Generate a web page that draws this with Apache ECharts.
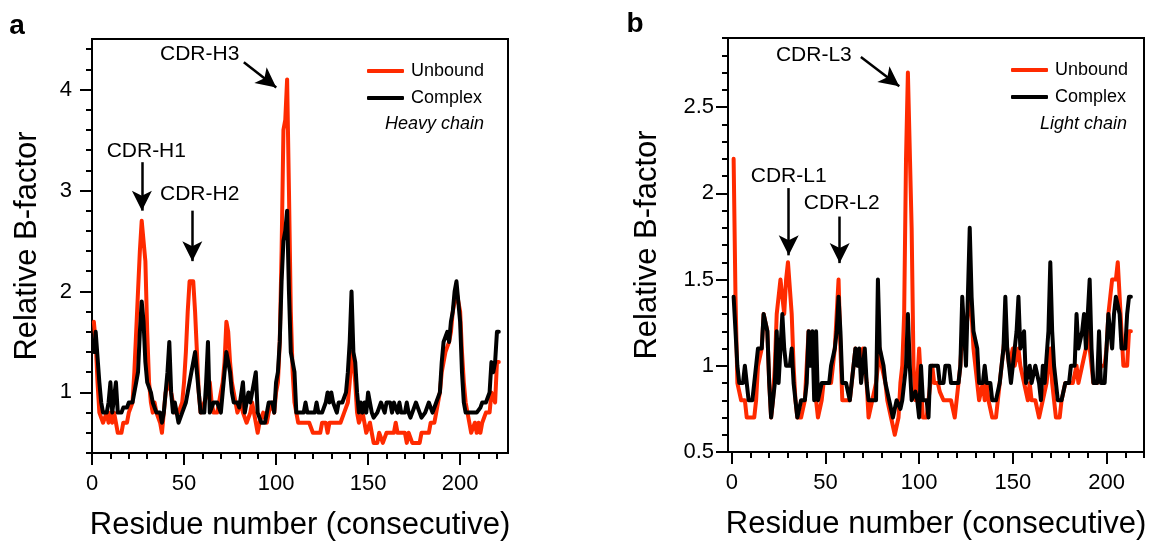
<!DOCTYPE html>
<html>
<head>
<meta charset="utf-8">
<title>Relative B-factor</title>
<script src="https://cdn.jsdelivr.net/npm/echarts@6.0.0/dist/echarts.min.js"></script>
<style>
  html, body { margin: 0; padding: 0; background: #fff; }
  #chart { width: 1163px; height: 546px; }
</style>
</head>
<body>
<div id="chart"></div>
<script>
// panel a, heavy chain: relative B-factor per residue (residue 1..221)
const unboundA = [
  1.7,1.5,1.1,0.8,0.8,0.7,0.7,0.8,0.7,0.8,
  0.7,0.8,0.7,0.6,0.6,0.6,0.7,0.7,0.7,0.8,
  0.8,0.9,1.2,1.6,2.0,2.4,2.7,2.7,2.3,1.6,
  1.1,0.9,0.8,0.9,0.8,0.8,0.7,0.6,0.8,1.0,
  1.0,1.1,1.1,0.9,0.8,0.8,0.8,0.8,0.9,1.1,
  1.4,1.8,2.1,2.1,2.1,1.8,1.4,1.0,0.8,0.8,
  0.9,0.9,1.0,1.1,0.9,0.8,0.8,0.8,0.9,1.0,
  1.1,1.3,1.7,1.6,1.3,1.1,1.0,0.9,0.8,0.8,
  0.9,0.8,0.8,0.7,0.7,0.8,0.9,0.8,0.7,0.6,
  0.7,0.7,0.8,0.8,0.7,0.8,0.8,0.9,0.8,1.0,
  1.1,1.5,2.4,3.6,3.7,4.1,3.0,1.8,1.2,0.9,
  0.8,0.7,0.7,0.7,0.7,0.7,0.7,0.7,0.7,0.6,
  0.6,0.6,0.6,0.6,0.7,0.7,0.7,0.6,0.7,0.7,
  0.7,0.7,0.7,0.7,0.7,0.7,0.8,0.8,0.9,1.1,
  1.4,1.3,1.1,0.8,0.7,0.7,0.8,0.7,0.6,0.6,
  0.7,0.6,0.5,0.5,0.5,0.6,0.6,0.5,0.5,0.6,
  0.6,0.6,0.6,0.6,0.7,0.6,0.6,0.6,0.6,0.6,
  0.5,0.6,0.6,0.5,0.5,0.5,0.5,0.5,0.6,0.6,
  0.6,0.6,0.6,0.7,0.7,0.7,0.8,0.9,1.0,1.2,
  1.3,1.4,1.4,1.5,1.6,1.8,1.9,2.0,2.0,1.8,
  1.4,1.1,0.9,0.8,0.8,0.6,0.6,0.7,0.6,0.7,
  0.6,0.7,0.7,0.8,0.8,0.8,1.0,1.0,0.9,1.3,1.3
];
const complexA = [
  1.4,1.6,1.6,1.1,0.9,0.8,0.8,0.8,0.9,1.1,
  0.8,0.8,1.1,0.8,0.8,0.8,0.85,0.85,0.85,0.9,
  0.9,0.9,1.0,1.1,1.2,1.6,1.9,1.7,1.3,1.1,
  1.1,1.0,0.9,0.9,0.8,0.8,0.8,0.7,0.8,1.0,
  1.2,1.5,1.0,0.8,0.9,0.8,0.7,0.7,0.8,0.8,
  0.9,1.0,1.0,1.2,1.3,1.4,1.2,1.0,0.8,0.8,
  0.8,1.1,1.5,0.8,0.85,0.9,0.9,0.9,0.85,0.8,
  1.0,1.2,1.4,1.4,1.2,1.0,0.9,0.9,0.9,0.85,
  0.85,1.1,0.8,0.9,1.0,0.9,1.0,1.1,1.2,0.8,
  0.8,0.7,0.7,0.7,0.8,0.9,0.9,0.9,0.8,1.1,
  1.2,1.5,2.1,2.5,2.6,2.8,2.0,1.4,1.3,1.2,
  0.8,0.8,0.8,0.8,0.8,0.9,0.8,0.8,0.8,0.8,
  0.8,0.9,0.8,0.8,0.8,0.8,0.9,1.0,0.9,1.0,
  0.9,0.9,0.8,0.9,0.9,0.9,0.9,1.0,1.2,1.5,
  2.0,1.4,1.3,1.0,0.8,0.9,0.8,0.9,0.8,1.0,
  0.9,0.8,0.75,0.75,0.8,0.85,0.9,0.9,0.8,0.9,
  0.9,0.9,0.8,0.9,0.9,0.8,0.9,0.8,0.8,0.8,
  0.9,0.8,0.75,0.8,0.8,0.9,0.85,0.8,0.75,0.75,
  0.8,0.8,0.9,0.85,0.8,0.8,0.9,0.9,1.0,1.3,
  1.5,1.5,1.6,1.5,1.7,1.8,2.0,2.1,2.1,1.7,
  1.2,0.9,0.8,0.8,0.8,0.8,0.8,0.8,0.8,0.8,
  0.85,0.9,0.9,0.9,0.9,1.0,1.3,1.2,1.3,1.6,1.6
];

// panel b, light chain (residue 1..213)
const unboundB = [
  2.2,1.4,0.9,0.9,0.8,0.8,0.8,0.7,0.7,0.7,
  0.7,0.7,0.8,1.0,1.0,1.1,1.3,1.3,1.2,0.9,
  0.7,0.8,1.0,1.3,1.3,1.5,1.5,1.3,1.5,1.6,
  1.6,1.3,1.0,0.8,0.7,0.7,0.7,0.7,0.8,1.0,
  1.2,1.1,1.1,1.1,0.8,0.7,0.7,0.8,0.9,0.9,
  0.9,0.9,0.9,1.0,1.1,1.3,1.5,1.1,0.8,0.8,
  0.8,0.8,0.8,0.9,1.0,1.1,1.1,1.0,1.0,1.1,
  1.0,0.9,0.7,0.7,0.8,0.8,0.9,0.9,1.1,1.0,
  1.0,0.9,0.8,0.8,0.7,0.7,0.6,0.6,0.7,0.9,
  1.0,1.3,2.2,2.7,2.7,1.8,1.0,0.8,0.9,1.1,
  1.1,0.7,0.7,0.7,0.8,0.9,1.0,0.9,0.9,0.9,
  0.85,0.85,0.8,0.8,0.8,0.8,0.8,0.8,0.7,0.8,
  0.9,1.0,1.2,1.1,1.1,1.3,1.5,1.3,1.1,1.0,
  1.0,0.8,0.8,0.9,0.8,0.9,0.8,0.8,0.7,0.7,
  0.7,0.8,0.9,1.0,1.1,1.2,1.1,1.0,1.0,1.1,
  1.0,1.0,1.1,1.0,1.0,0.9,0.9,0.8,0.9,0.8,
  0.8,0.8,0.8,0.7,0.7,0.8,0.8,0.9,1.0,1.1,
  0.9,0.8,0.7,0.7,0.7,0.8,0.8,0.9,0.9,0.9,
  0.9,0.9,0.9,1.0,0.9,0.9,1.0,1.0,1.1,1.2,
  1.1,1.0,0.9,0.9,0.9,0.9,1.0,1.0,1.0,1.1,
  1.3,1.4,1.5,1.5,1.5,1.6,1.4,1.2,1.0,1.0,
  1.0,1.2,1.2
];
const complexB = [
  1.4,1.2,1.0,0.9,0.9,0.9,1.0,0.9,0.8,0.8,
  0.8,0.8,1.0,1.1,1.1,1.1,1.3,1.3,1.2,0.9,
  0.7,0.8,0.9,1.2,0.9,1.1,1.3,1.1,1.0,1.0,
  1.0,1.1,0.9,0.8,0.7,0.7,0.8,0.8,0.8,0.9,
  1.2,1.0,1.2,0.8,1.2,0.8,0.8,0.9,0.9,0.9,
  0.9,0.9,1.0,1.0,1.1,1.2,1.4,1.2,0.9,0.9,
  0.9,0.9,0.8,0.9,1.0,1.1,1.0,1.1,0.9,1.0,
  1.1,0.9,0.8,0.8,0.8,0.8,0.8,1.5,1.1,1.1,
  1.0,0.9,0.9,0.8,0.8,0.7,0.7,0.8,0.8,0.75,
  0.8,0.9,1.0,1.3,1.0,0.8,0.8,0.85,0.8,0.7,
  1.0,0.8,0.8,0.8,0.7,1.0,1.0,1.0,1.0,1.0,
  0.9,0.9,0.9,1.0,1.0,1.0,0.9,0.9,0.9,0.9,
  0.9,1.0,1.4,1.2,1.0,1.4,1.8,1.4,1.2,1.2,
  1.1,0.9,0.9,0.9,1.0,0.9,0.9,0.9,0.8,0.8,
  0.8,0.8,0.9,1.0,1.1,1.4,1.1,1.0,0.9,1.0,
  1.1,1.2,1.4,1.1,1.1,1.2,0.9,0.9,1.0,0.9,
  0.9,1.0,1.0,0.9,0.8,1.0,0.9,0.9,1.2,1.6,
  1.2,1.0,0.9,0.8,0.8,0.8,0.8,0.9,0.9,0.9,
  1.0,1.0,1.0,1.3,1.1,1.1,1.2,1.3,1.1,1.1,
  1.5,1.1,0.9,0.9,0.9,1.2,0.9,0.9,0.9,1.1,
  1.3,1.2,1.1,1.3,1.4,1.4,1.3,1.1,1.1,1.1,
  1.3,1.4,1.4
];

// tick labels
const xMajor = [0, 50, 100, 150, 200];
const yMajorA = [1, 2, 3, 4];
const yMajorB = [0.5, 1, 1.5, 2, 2.5];

// CDR annotations (label centre, arrow start, arrow end) in data units
const cdrA = [
  { text: 'CDR-H1', at: [29.5, 3.39], from: [27.1, 3.28], to: [27.1, 2.80] },
  { text: 'CDR-H2', at: [58.5, 2.96], from: [54.5, 2.80], to: [54.5, 2.30] },
  { text: 'CDR-H3', at: [58.5, 4.35], from: [82.5, 4.27], to: [100.1, 4.02] }
];
const cdrB = [
  { text: 'CDR-L1', at: [30.4, 2.10], from: [30.4, 2.03], to: [30.4, 1.64] },
  { text: 'CDR-L2', at: [58.7, 1.94], from: [57.6, 1.865], to: [57.6, 1.595] },
  { text: 'CDR-L3', at: [43.8, 2.80], from: [68.9, 2.79], to: [89.4, 2.62] }
];

const FONT = '"Liberation Sans", Arial, Helvetica, sans-serif';
const RED = '#ff2a00';

function minorTicks(from, to, step, major) {
  const out = [];
  const n = Math.round((to - from) / step);
  for (let i = 0; i <= n; i++) {
    const v = Math.round((from + i * step) * 100) / 100;
    if (major.indexOf(v) < 0) out.push(v);
  }
  return out;
}

function toPoints(values) {
  return values.map((v, i) => [i + 1, v]);
}

// a labelled axis with long ticks plus a bare axis carrying the short ticks
function axisPair(dim, grid, min, max, major, minor, name, nameGap, margin) {
  const pos = dim === 'x' ? 'bottom' : 'left';
  const main = {
    type: 'value', gridIndex: grid, min: min, max: max, position: pos,
    axisLine: { show: true, onZero: false, lineStyle: { color: '#000', width: 2 } },
    axisTick: { show: true, customValues: major, length: 12, lineStyle: { color: '#000', width: 2 } },
    axisLabel: { customValues: major, fontSize: 22, color: '#000', fontFamily: FONT, margin: margin },
    splitLine: { show: false },
    name: name, nameLocation: 'middle', nameGap: nameGap,
    nameTextStyle: { fontSize: 31, color: '#000', fontFamily: FONT }
  };
  const small = {
    type: 'value', gridIndex: grid, min: min, max: max, position: pos,
    axisLine: { show: false, onZero: false },
    axisTick: { show: true, customValues: minor, length: 6, lineStyle: { color: '#000', width: 2 } },
    axisLabel: { show: false },
    splitLine: { show: false }
  };
  return [main, small];
}

function annotations(list) {
  return {
    markLine: {
      silent: true, animation: false,
      symbol: ['none', 'arrow'], symbolSize: [15, 20],
      lineStyle: { color: '#000', width: 2.5, type: 'solid' },
      label: { show: false },
      data: list.map(c => [{ coord: c.from }, { coord: c.to }])
    },
    markPoint: {
      silent: true, animation: false,
      symbol: 'rect', symbolSize: 1, itemStyle: { color: 'rgba(0,0,0,0)' },
      label: { show: true, position: 'inside', formatter: p => p.name,
        fontSize: 21, color: '#000', fontFamily: FONT },
      data: list.map(c => ({ name: c.text, coord: c.at }))
    }
  };
}

function lineSeries(name, color, xi, yi, values, extra) {
  return Object.assign({
    name: name, type: 'line', xAxisIndex: xi, yAxisIndex: yi,
    data: toPoints(values), showSymbol: false, symbol: 'none',
    color: color, lineStyle: { color: color, width: 4, cap: 'round', join: 'round' },
    animation: false
  }, extra || {});
}

const xA = axisPair('x', 0, 0, 226, xMajor, minorTicks(0, 220, 10, xMajor), 'Residue number (consecutive)', 57, 20);
const yA = axisPair('y', 0, 0.4, 4.5, yMajorA, minorTicks(0.4, 4.4, 0.2, yMajorA), 'Relative B-factor', 49, 20);
const xB = axisPair('x', 1, -2, 220, xMajor, minorTicks(0, 220, 10, xMajor), 'Residue number (consecutive)', 57, 20);
const yB = axisPair('y', 1, 0.5, 2.9, yMajorB, minorTicks(0.5, 2.9, 0.1, yMajorB), 'Relative B-factor', 65, 14);

const legendBase = {
  data: ['Unbound', 'Complex'], orient: 'vertical', selectedMode: false,
  icon: 'roundRect', itemWidth: 37, itemHeight: 4, itemGap: 7,
  textStyle: { fontSize: 18, color: '#000', fontFamily: FONT, padding: [0, 0, 0, 2], lineHeight: 20 }
};

const option = {
  animation: false,
  backgroundColor: '#fff',
  grid: [
    { left: 92, top: 39, width: 416, height: 415, show: true, borderColor: '#000', borderWidth: 2 },
    { left: 728, top: 38, width: 416, height: 414, show: true, borderColor: '#000', borderWidth: 2 }
  ],
  xAxis: [xA[0], xA[1], xB[0], xB[1]],
  yAxis: [yA[0], yA[1], yB[0], yB[1]],
  legend: [
    Object.assign({}, legendBase, { left: 362, top: 56 }),
    Object.assign({}, legendBase, { left: 1006, top: 55 })
  ],
  graphic: [
    { type: 'text', x: 17, y: 26, style: { text: 'a', font: 'bold 28px ' + FONT, fill: '#000', align: 'center', verticalAlign: 'middle' } },
    { type: 'text', x: 635, y: 24, style: { text: 'b', font: 'bold 28px ' + FONT, fill: '#000', align: 'center', verticalAlign: 'middle' } },
    { type: 'text', x: 484, y: 124, style: { text: 'Heavy chain', font: 'italic 18px ' + FONT, fill: '#000', align: 'right', verticalAlign: 'middle' } },
    { type: 'text', x: 1127, y: 124, style: { text: 'Light chain', font: 'italic 18px ' + FONT, fill: '#000', align: 'right', verticalAlign: 'middle' } }
  ],
  series: [
    lineSeries('Unbound', RED, 0, 0, unboundA),
    lineSeries('Complex', '#000', 0, 0, complexA, annotations(cdrA)),
    lineSeries('Unbound', RED, 2, 2, unboundB),
    lineSeries('Complex', '#000', 2, 2, complexB, annotations(cdrB))
  ]
};

const chart = echarts.init(document.getElementById('chart'), null, { renderer: 'canvas' });
chart.setOption(option);
</script>
</body>
</html>
